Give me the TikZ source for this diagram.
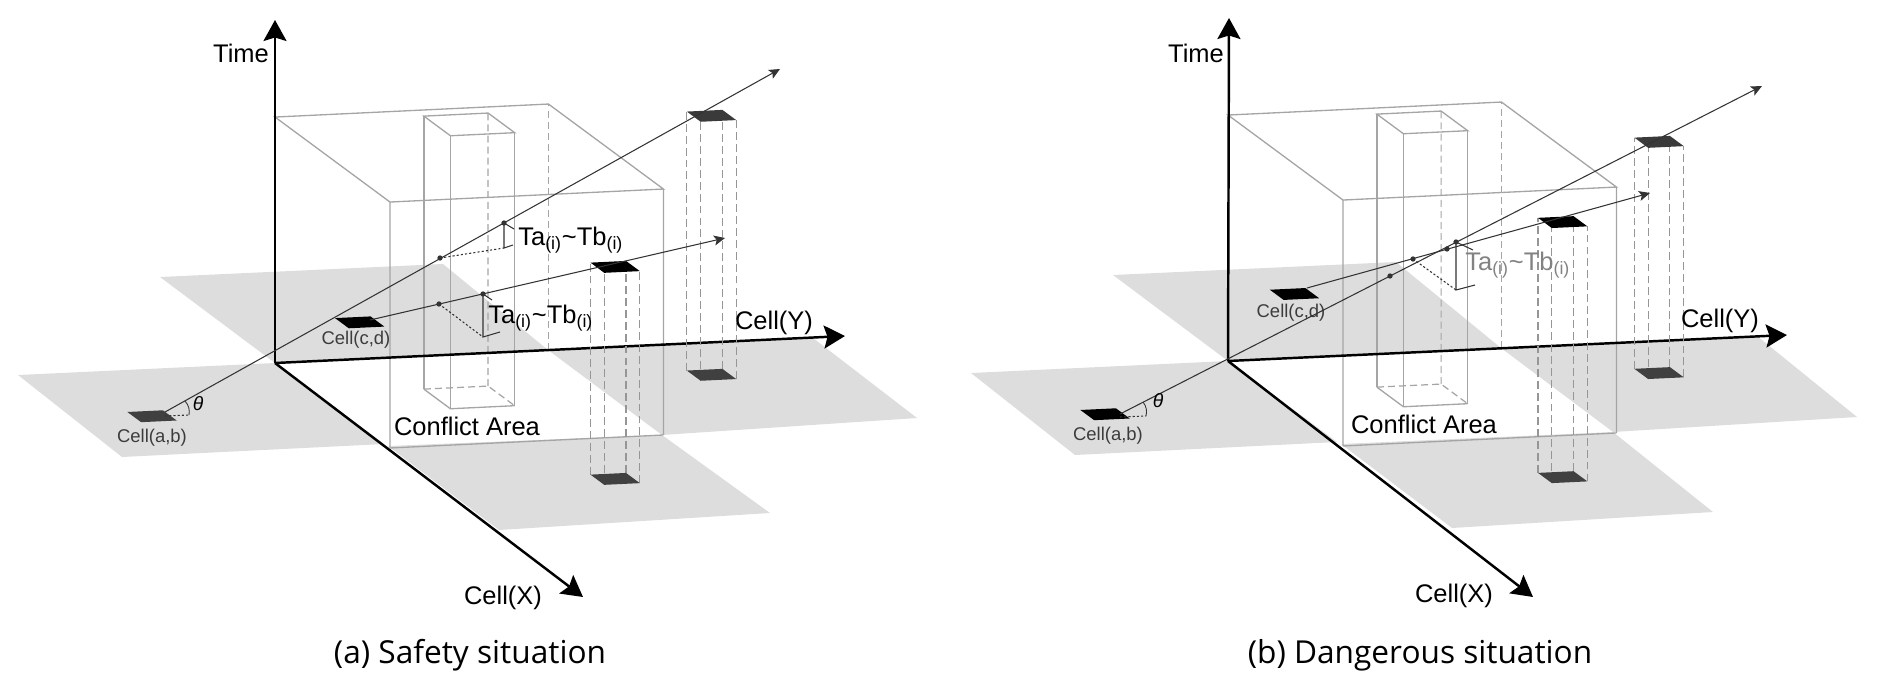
\documentclass[tikz,border=0pt]{standalone}
\usepackage{fontspec}
\setmainfont{Liberation Sans}
\newfontfamily\capfont{Open Sans}
\usetikzlibrary{arrows.meta}
\definecolor{roadgray}{RGB}{221,221,221}
\definecolor{boxgray}{RGB}{165,165,165}
\definecolor{colgray}{RGB}{150,150,150}
\definecolor{trajgray}{RGB}{51,51,51}
\definecolor{cellgray}{RGB}{64,64,64}
\definecolor{textgray}{RGB}{60,60,60}
\definecolor{fadegray}{RGB}{130,130,130}
\tikzset{
 cellframe/.style={x={(2.3cm,-1.7cm)},y={(5.47cm,0.26cm)},z={(0cm,4.92cm)}},
 axisline/.style={line width=1.4pt,-{Stealth[length=0.42cm,width=0.46cm,inset=0.07cm]}},
 traj/.style={trajgray,line width=0.6pt,-{Stealth[length=0.22cm,width=0.2cm,inset=0.05cm]}},
 boxline/.style={boxgray,line width=0.75pt},
 hiddenline/.style={boxgray,line width=0.7pt,dash pattern=on 4pt off 2.3pt},
 colline/.style={colgray,line width=0.6pt,dash pattern=on 4.5pt off 2.3pt},
 road/.style={fill=roadgray},
 guide/.style={trajgray,line width=0.6pt,dash pattern=on 1.2pt off 1.2pt},
 brk/.style={trajgray,line width=0.6pt},
 tdot/.style={circle,fill=trajgray,inner sep=0pt,minimum size=3pt},
 lab/.style={font=\fontsize{14.5}{16}\selectfont,inner sep=0pt},
 celllab/.style={font=\fontsize{10.5}{12}\selectfont,text=textgray,inner sep=0pt},
 captext/.style={font=\capfont\fontsize{18}{20}\selectfont,inner sep=0pt}
}
\begin{document}
\begin{tikzpicture}[x=0.02cm,y=-0.02cm]
\useasboundingbox (0,0) rectangle (1886,676);
% (a) safety situation
\fill[road] (18,375) -- (275,363) -- (384,444) -- (122,457) -- cycle;
\fill[road] (160,277) -- (443,264) -- (548,350) -- (275,363) -- cycle;
\fill[road] (548,350) -- (813,338) -- (917,418) -- (662,435) -- cycle;
\fill[road] (388,446) -- (662,435) -- (770,513) -- (499,530) -- cycle;
\begin{scope}[shift={(275,363)},cellframe]
\draw[boxline] (0,0,1) -- (1,0,1) -- (1,1,1) -- (0,1,1) -- cycle;
\draw[boxline] (1,0,0) -- (1,0,1) (1,1,0) -- (1,1,1) (1,0,0) -- (1,1,0);
\draw[hiddenline] (0,1,0) -- (0,1,1);
\draw[boxline] (0.367,0.39,1.11) -- (0.598,0.39,1.11) -- (0.598,0.625,1.11) -- (0.367,0.625,1.11) -- cycle;
\draw[boxline] (0.367,0.39,0) -- (0.367,0.39,1.11) (0.598,0.39,0) -- (0.598,0.39,1.11) (0.598,0.625,0) -- (0.598,0.625,1.11);
\draw[boxline] (0.367,0.39,0) -- (0.598,0.39,0) -- (0.598,0.625,0);
\draw[hiddenline] (0.367,0.625,0) -- (0.367,0.625,1.11) (0.367,0.39,0) -- (0.367,0.625,0) -- (0.598,0.625,0);
\end{scope}
\coordinate (Oa) at (275,363);
\coordinate (Ta) at (275,20);
\coordinate (Xa) at (583,597);
\coordinate (Ya) at (845,336);
\draw[axisline] (Oa) -- (Ta);
\draw[axisline] (Oa) -- (Xa);
\draw[axisline] (Oa) -- (Ya);
\begin{scope}[shift={(275,363)},cellframe]
\draw[colline] (1.4,0.565,0) -- (1.4,0.565,0.862) (1.52,0.565,0) -- (1.52,0.565,0.862) (1.52,0.695,0) -- (1.52,0.695,0.862) (1.4,0.695,0) -- (1.4,0.695,0.862);
\fill[cellgray] (1.4,0.565,0) -- ++(0.12,0,0) -- ++(0,0.13,0) -- ++(-0.12,0,0) -- cycle;
\fill[black] (1.4,0.565,0.862) -- ++(0.12,0,0) -- ++(0,0.13,0) -- ++(-0.12,0,0) -- cycle;
\draw[colline] (0.3,1.38,0) -- (0.3,1.38,1.053) (0.42,1.38,0) -- (0.42,1.38,1.053) (0.42,1.51,0) -- (0.42,1.51,1.053) (0.3,1.51,0) -- (0.3,1.51,1.053);
\fill[cellgray] (0.3,1.38,0) -- ++(0.12,0,0) -- ++(0,0.13,0) -- ++(-0.12,0,0) -- cycle;
\fill[cellgray!90!black] (0.3,1.38,1.053) -- ++(0.12,0,0) -- ++(0,0.13,0) -- ++(-0.12,0,0) -- cycle;
\fill[black] (-0.465,0.415,0) -- ++(0.12,0,0) -- ++(0,0.13,0) -- ++(-0.12,0,0) -- cycle;
\fill[cellgray] (0.464,-0.735,0) -- ++(0.12,0,0) -- ++(0,0.13,0) -- ++(-0.12,0,0) -- cycle;
\end{scope}
\coordinate (ABa) at (165,412);
\coordinate (ABaend) at (780,69);
\coordinate (CDa) at (370,320);
\coordinate (CDaend) at (725,238);
\draw[traj] (ABa) -- (ABaend);
\draw[traj] (CDa) -- (CDaend);
\node[tdot] (pa1) at (440,258) {};
\node[tdot] (pa2) at (504,223) {};
\coordinate (pa3) at (504,248);
\draw[guide] (pa1.center) -- (pa3);
\draw[brk] (514,229) -- (pa2.center) -- (pa3) -- (513,245);
\node[tdot] (qa1) at (439,304) {};
\node[tdot] (qa2) at (483,294) {};
\coordinate (qa3) at (483,337);
\draw[guide] (qa1.center) -- (qa3);
\draw[brk] (492,300) -- (qa2.center) -- (qa3) -- (500,332);
\draw[guide] (165,416) -- (189,415);
\draw[trajgray,line width=0.5pt] (185,401) to[bend left=25] (189,415);
\node[font=\fontsize{11}{12}\selectfont\itshape,inner sep=0pt] (tha) at (198,404) {θ};
\node[lab,anchor=base] (timea) at (241,62) {Time};
\node[lab,anchor=base] (cya) at (774,329) {Cell(Y)};
\node[lab,anchor=base] (cxa) at (503,604) {Cell(X)};
\node[lab,anchor=base] (caa) at (467,435) {Conflict Area};
\node[celllab,anchor=base] (cda) at (356,344) {Cell(c,d)};
\node[celllab,anchor=base] (aba) at (152,442) {Cell(a,b)};
\node[lab,anchor=base west] (tta) at (518,245) {Ta\textsubscript{(i)}\textasciitilde Tb\textsubscript{(i)}};
\node[lab,anchor=base west] (ttb) at (488,323) {Ta\textsubscript{(i)}\textasciitilde Tb\textsubscript{(i)}};
\node[captext,anchor=base] (capa) at (470,663) {(a) Safety situation};
% (b) dangerous situation
\begin{scope}[shift={(953,-2)}]
\fill[road] (18,375) -- (275,363) -- (384,444) -- (122,457) -- cycle;
\fill[road] (160,277) -- (443,264) -- (548,350) -- (275,363) -- cycle;
\fill[road] (548,350) -- (804,338) -- (904,419) -- (660,434) -- cycle;
\fill[road] (388,446) -- (660,434) -- (760,514) -- (499,530) -- cycle;
\begin{scope}[shift={(275,363)},cellframe]
\draw[boxline] (0,0,1) -- (1,0,1) -- (1,1,1) -- (0,1,1) -- cycle;
\draw[boxline] (1,0,0) -- (1,0,1) (1,1,0) -- (1,1,1) (1,0,0) -- (1,1,0);
\draw[hiddenline] (0,1,0) -- (0,1,1);
\draw[boxline] (0.367,0.39,1.11) -- (0.598,0.39,1.11) -- (0.598,0.625,1.11) -- (0.367,0.625,1.11) -- cycle;
\draw[boxline] (0.367,0.39,0) -- (0.367,0.39,1.11) (0.598,0.39,0) -- (0.598,0.39,1.11) (0.598,0.625,0) -- (0.598,0.625,1.11);
\draw[boxline] (0.367,0.39,0) -- (0.598,0.39,0) -- (0.598,0.625,0);
\draw[hiddenline] (0.367,0.625,0) -- (0.367,0.625,1.11) (0.367,0.39,0) -- (0.367,0.625,0) -- (0.598,0.625,0);
\end{scope}
\coordinate (Ob) at (275,363);
\coordinate (Tb) at (276,20);
\coordinate (Xb) at (580,599);
\coordinate (Yb) at (834,337);
\draw[axisline] (Ob) -- (Tb);
\draw[axisline] (Ob) -- (Xb);
\draw[axisline] (Ob) -- (Yb);
\begin{scope}[shift={(275,363)},cellframe]
\draw[colline] (1.4,0.545,0) -- (1.4,0.545,1.037) (1.52,0.545,0) -- (1.52,0.545,1.037) (1.52,0.675,0) -- (1.52,0.675,1.037) (1.4,0.675,0) -- (1.4,0.675,1.037);
\fill[cellgray] (1.4,0.545,0) -- ++(0.12,0,0) -- ++(0,0.13,0) -- ++(-0.12,0,0) -- cycle;
\fill[black] (1.4,0.545,1.037) -- ++(0.12,0,0) -- ++(0,0.13,0) -- ++(-0.12,0,0) -- cycle;
\draw[colline] (0.3,1.36,0) -- (0.3,1.36,0.94) (0.42,1.36,0) -- (0.42,1.36,0.94) (0.42,1.49,0) -- (0.42,1.49,0.94) (0.3,1.49,0) -- (0.3,1.49,0.94);
\fill[cellgray] (0.3,1.36,0) -- ++(0.12,0,0) -- ++(0,0.13,0) -- ++(-0.12,0,0) -- cycle;
\fill[cellgray!90!black] (0.3,1.36,0.94) -- ++(0.12,0,0) -- ++(0,0.13,0) -- ++(-0.12,0,0) -- cycle;
\fill[black] (-0.766,0.475,0) -- ++(0.12,0,0) -- ++(0,0.13,0) -- ++(-0.12,0,0) -- cycle;
\fill[black] (0.464,-0.735,0) -- ++(0.12,0,0) -- ++(0,0.13,0) -- ++(-0.12,0,0) -- cycle;
\end{scope}
\coordinate (ABb) at (167,416);
\coordinate (ABbend) at (809,88);
\coordinate (CDb) at (354,290);
\coordinate (CDbend) at (697,195);
\node[celllab,anchor=base] (cdb) at (338,319) {Cell(c,d)};
\draw[traj] (ABb) -- (ABbend);
\draw[traj] (CDb) -- (CDbend);
\node[tdot] (pb1) at (437,278) {};
\node[tdot] (pb2) at (503,244) {};
\node[tdot] (qb1) at (460,261) {};
\node[tdot] (qb2) at (494,251) {};
\coordinate (pb3) at (503,292);
\draw[guide] (qb1.center) -- (pb3);
\draw[brk] (520,252) -- (pb2.center) -- (pb3) -- (522,287);
\draw[guide] (167,419) -- (193,418);
\draw[trajgray,line width=0.5pt] (190,404) to[bend left=25] (193,418);
\node[font=\fontsize{11}{12}\selectfont\itshape,inner sep=0pt] (thb) at (205,403) {θ};
\node[lab,anchor=base] (timeb) at (243,64) {Time};
\node[lab,anchor=base] (cyb) at (767,329) {Cell(Y)};
\node[lab,anchor=base] (cxb) at (501,604) {Cell(X)};
\node[lab,anchor=base] (cab) at (471,435) {Conflict Area};
\node[celllab,anchor=base] (abb) at (155,442) {Cell(a,b)};
\node[lab,anchor=base west,text=fadegray] (ttc) at (512,272) {Ta\textsubscript{(i)}\textasciitilde Tb\textsubscript{(i)}};
\node[captext,anchor=base] (capb) at (467,665) {(b) Dangerous situation};
\end{scope}
\end{tikzpicture}
\end{document}
